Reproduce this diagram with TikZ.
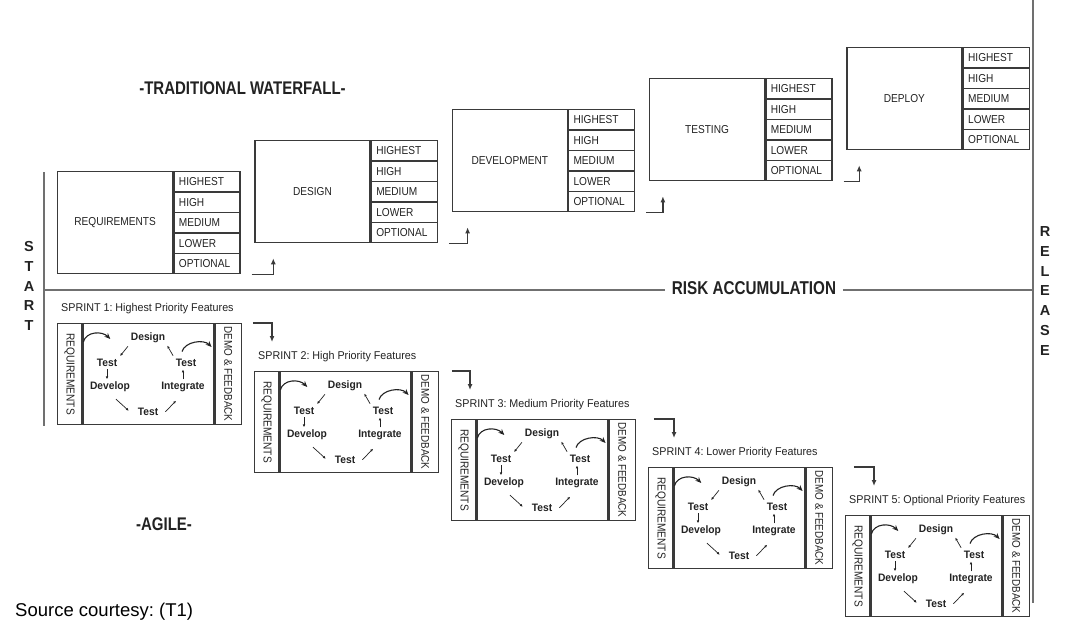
\documentclass[tikz,border=0pt]{standalone}
\usepackage{fontspec}
\setmainfont{Liberation Sans}
\newfontfamily\condA[FakeStretch=0.88]{Liberation Sans}
\newfontfamily\condB[FakeStretch=0.95]{Liberation Sans}
\newfontfamily\headf[FakeStretch=0.82]{Liberation Sans}
\usetikzlibrary{arrows.meta,calc}
\definecolor{boxc}{HTML}{3A3A3A}
\definecolor{axisc}{HTML}{707070}
\definecolor{txtc}{HTML}{222222}
\frenchspacing
\begin{document}
\begin{tikzpicture}[x=1pt,y=-1pt,
  wmain/.style={draw=boxc,line width=1.3pt,minimum width=115pt,minimum height=102pt,inner sep=0pt,text=txtc,font=\condA\fontsize{11.5}{13}\selectfont},
  wrow/.style={draw=boxc,line width=1.3pt,minimum height=20.4pt,text width=56pt,inner xsep=5pt,inner ysep=0pt,align=left,text=txtc,font=\condA\fontsize{11.5}{13}\selectfont},
  sreq/.style={draw=boxc,line width=1.3pt,minimum width=24pt,minimum height=101pt,inner sep=0pt,text=txtc,font=\condA\fontsize{11.5}{13}\selectfont},
  smid/.style={draw=boxc,line width=1.3pt,minimum width=131pt,minimum height=101pt,inner sep=0pt},
  sdemo/.style={draw=boxc,line width=1.3pt,minimum width=26pt,minimum height=101pt,inner sep=0pt,text=txtc,font=\condA\fontsize{11.2}{13}\selectfont},
  slab/.style={inner sep=0pt,text=txtc,font=\condB\fontsize{11.3}{13}\selectfont},
  cyc/.style={inner sep=1.5pt,text=txtc,font=\condB\bfseries\fontsize{10.8}{12}\selectfont},
  head/.style={inner sep=0pt,text=txtc,font=\headf\bfseries\fontsize{18.3}{20}\selectfont},
  riskhead/.style={inner xsep=6.5pt,inner ysep=0pt,text=txtc,font=\headf\bfseries\fontsize{18.6}{20}\selectfont},
  vlet/.style={inner sep=0pt,text=txtc,align=center,font=\bfseries\fontsize{14.5}{19.8}\selectfont},
  src/.style={inner sep=0pt,text=black,font=\fontsize{18.5}{20}\selectfont},
  sarr/.style={draw=txtc,line width=0.7pt,-{Latex[length=2.8pt,width=2.6pt]}},
  carr/.style={draw=txtc,line width=1.1pt,-{Stealth[length=6pt,width=5pt]}},
  warr/.style={draw=boxc,line width=1.3pt,-{Latex[length=6pt,width=5pt]}},
  axis/.style={draw=axisc,line width=1.5pt}
]
\useasboundingbox (0,0) rectangle (1092,630);

% axes
\coordinate (st1) at (44,172);
\coordinate (st2) at (44,426);
\coordinate (rl1) at (1033,0);
\coordinate (rl2) at (1033,603);
\coordinate (rk1) at (44,290);
\coordinate (rk2) at (1033,290);
\draw[axis] (st1) -- (st2);
\draw[axis] (rl1) -- (rl2);
\node[riskhead] (risk) at (754,288) {RISK ACCUMULATION};
\draw[axis] (rk1) -- (rk1 -| risk.west);
\draw[axis] (rk1 -| risk.east) -- (rk2);
\node[vlet] (start) at (29,286) {S\\T\\A\\R\\T};
\node[vlet] (release) at (1045,291) {R\\E\\L\\E\\A\\S\\E};

% headings
\node[head] (trad) at (242.5,88) {-TRADITIONAL WATERFALL-};
\node[head] (agile) at (164,524) {-AGILE-};
\node[src,anchor=west] (source) at (15,612) {Source courtesy: (T1)};

% waterfall boxes
\foreach \i/\name in {0/REQUIREMENTS,1/DESIGN,2/DEVELOPMENT,3/TESTING,4/DEPLOY}{
  \node[wmain,anchor=north west] (w\i) at (57+197.3*\i,171-31*\i) {\name};
  \foreach \j/\lab in {0/HIGHEST,1/HIGH,2/MEDIUM,3/LOWER,4/OPTIONAL}{
    \node[wrow,anchor=north west] (w\i-\j) at ($(w\i.north east)+(0,20.4*\j)$) {\lab};
  }
}
\foreach \i/\k/\ex in {0/1/19,1/2/16,2/3/14,3/4/13}{
  \coordinate (wa\i-s) at ($(w\i-4.south east)+(11,0)$);
  \coordinate (wa\i-e) at ($(w\k.south west)+(\ex,15)$);
  \draw[warr] (wa\i-s) -| (wa\i-e);
}

% sprint boxes
\foreach \i/\lab in {0/Highest,1/High,2/Medium,3/Lower,4/Optional}{
  \pgfmathtruncatemacro{\sn}{\i+1}
  \node[sreq,anchor=north west] (s\i) at (57+197*\i,323+48*\i) {\rotatebox{-90}{REQUIREMENTS}};
  \node[smid,anchor=north west] (s\i-m) at (s\i.north east) {};
  \node[sdemo,anchor=north west] (s\i-d) at (s\i-m.north east) {\rotatebox{-90}{DEMO \& FEEDBACK}};
  \node[slab,anchor=west] (s\i-l) at ($(s\i.north west)+(4,-14.5)$) {SPRINT \sn: \lab\ Priority Features};
  \node[cyc] (s\i-de) at ($(s\i.north west)+(91,15)$) {Design};
  \node[cyc] (s\i-tl) at ($(s\i.north west)+(50,40)$) {Test};
  \node[cyc] (s\i-dv) at ($(s\i.north west)+(53,64)$) {Develop};
  \node[cyc] (s\i-tb) at ($(s\i.north west)+(91,89)$) {Test};
  \node[cyc] (s\i-ig) at ($(s\i.north west)+(126,64)$) {Integrate};
  \node[cyc] (s\i-tr) at ($(s\i.north west)+(129,40)$) {Test};
  \draw[sarr,shorten <=2pt,shorten >=2pt] (s\i-de.south west) -- (s\i-tl.north east);
  \draw[sarr,shorten <=1pt,shorten >=1pt] (s\i-tl.south) -- (s\i-tl.south |- s\i-dv.north);
  \draw[sarr,shorten <=8pt,shorten >=10pt] (s\i-dv.south) -- (s\i-tb.south west);
  \draw[sarr,shorten <=8pt,shorten >=10pt] (s\i-tb.south east) -- (s\i-ig.south);
  \draw[sarr,shorten <=1pt,shorten >=1pt] (s\i-ig.north) -- (s\i-ig.north |- s\i-tr.south);
  \draw[sarr,shorten <=2pt,shorten >=1pt] (s\i-tr.north west) -- (s\i-de.south east);
  \coordinate (s\i-c1s) at ($(s\i.north east)+(1,19)$);
  \coordinate (s\i-c1e) at ($(s\i.north east)+(28,16)$);
  \draw[carr] (s\i-c1s) .. controls +(3,-11) and +(-8,-8) .. (s\i-c1e);
  \coordinate (s\i-c2s) at ($(s\i-tr.north)+(-4,-6)$);
  \coordinate (s\i-c2e) at ($(s\i-d.north west)+(-3,24)$);
  \draw[carr] (s\i-c2s) .. controls +(3,-10) and +(-8,-8) .. (s\i-c2e);
}
\foreach \i/\k/\ox/\ex in {0/1/11/18,1/2/13/19,2/3/18/26,3/4/21/29}{
  \coordinate (sa\i-s) at ($(s\i-d.north east)+(\ox,0)$);
  \coordinate (sa\i-e) at ($(s\k.north west)+(\ex,-29)$);
  \draw[warr] (sa\i-s) -| (sa\i-e);
}
\end{tikzpicture}
\end{document}
